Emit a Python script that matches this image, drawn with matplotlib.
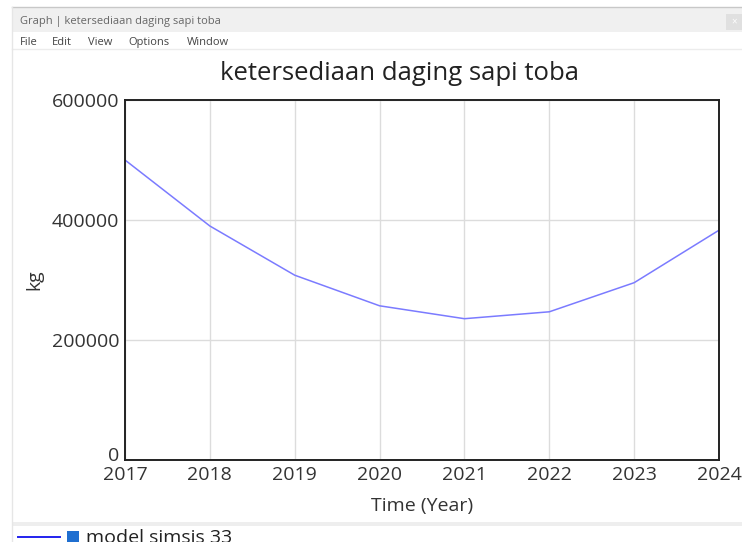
import matplotlib.pyplot as plt
import matplotlib.transforms as mtransforms
from matplotlib.patches import Rectangle
from matplotlib.lines import Line2D

# data
years = [2017, 2018, 2019, 2020, 2021, 2022, 2023, 2024]
stock_kg = [500000, 390000, 308000, 257000, 235500, 247000, 295500, 383000]
y_ticks = [0, 200000, 400000, 600000]
menu_items = ['File', 'Edit', 'View', 'Options', 'Window']
menu_x = [20, 52, 88, 128, 187]

plt.rcParams['font.family'] = ['Open Sans', 'DejaVu Sans']

fig = plt.figure(figsize=(7.42, 5.42), dpi=100)
W, H = 742, 542

def fx(px):
    return px / W

def fy(py):
    return 1 - py / H

# window chrome: title bar, menu bar, separators
fig.patches.append(Rectangle((fx(12), fy(32)), fx(742 - 12), (32 - 8) / H,
                             transform=fig.transFigure, facecolor='#f0f0f0',
                             edgecolor='none', zorder=0))
fig.lines.append(Line2D([fx(12), 1], [fy(7), fy(7)], transform=fig.transFigure,
                        color='#c8c8c8', lw=1))
fig.lines.append(Line2D([fx(12), 1], [fy(49), fy(49)], transform=fig.transFigure,
                        color='#ececec', lw=1))
fig.lines.append(Line2D([fx(12), fx(12)], [fy(7), 0], transform=fig.transFigure,
                        color='#e6e6e6', lw=1))
fig.patches.append(Rectangle((fx(12), fy(526)), fx(742 - 12), 4 / H,
                             transform=fig.transFigure, facecolor='#eeeeee',
                             edgecolor='none', zorder=0))
fig.patches.append(Rectangle((fx(726), fy(30)), fx(16), 16 / H,
                             transform=fig.transFigure, facecolor='#e0e0e0',
                             edgecolor='none', zorder=1))
fig.text(fx(734), fy(22), '×', fontsize=7, color='#ffffff', ha='center', va='center')
fig.text(fx(20), fy(24), 'Graph | ketersediaan daging sapi toba', fontsize=8,
         color='#666666', va='baseline')
for label, x in zip(menu_items, menu_x):
    fig.text(fx(x), fy(45), label, fontsize=8, color='#444444', va='baseline')

# plot area
ax = fig.add_axes([fx(125), fy(460), fx(719 - 125), (460 - 100) / H])
ax.plot(years, stock_kg, color='#7b7bff', lw=1.1)
ax.set_xlim(years[0], years[-1])
ax.set_ylim(0, 600000)
ax.set_xticks(years)
ax.set_yticks(y_ticks)
ax.grid(True, color='#dcdcdc', lw=1)
ax.tick_params(length=0, labelsize=14, colors='#333333', pad=4)
for s in ax.spines.values():
    s.set_color('#222222')
    s.set_linewidth(1.4)
fig.text(fx(399), fy(73), 'ketersediaan daging sapi toba', fontsize=18.5,
         color='#222222', ha='center', va='center')
ax.set_xlabel('Time (Year)', fontsize=14, color='#333333', labelpad=10)
ax.set_ylabel('kg', fontsize=14, color='#333333', labelpad=6)

# the "0" label sits a little above the axis line in the original
zero_lbl = ax.get_yticklabels()[0]
zero_lbl.set_transform(zero_lbl.get_transform() +
                       mtransforms.ScaledTranslation(0, 6 / 100, fig.dpi_scale_trans))

# legend row at the bottom
fig.lines.append(Line2D([fx(18), fx(60)], [fy(537), fy(537)], transform=fig.transFigure,
                        color='#2222ee', lw=1.4))
fig.patches.append(Rectangle((fx(67), fy(543)), fx(12), 12 / H,
                             transform=fig.transFigure, facecolor='#1f6fd0',
                             edgecolor='none', zorder=2))
fig.text(fx(86), fy(538), 'model simsis 33', fontsize=14, color='#222222', va='center')

fig.savefig('out.png', dpi=100)
